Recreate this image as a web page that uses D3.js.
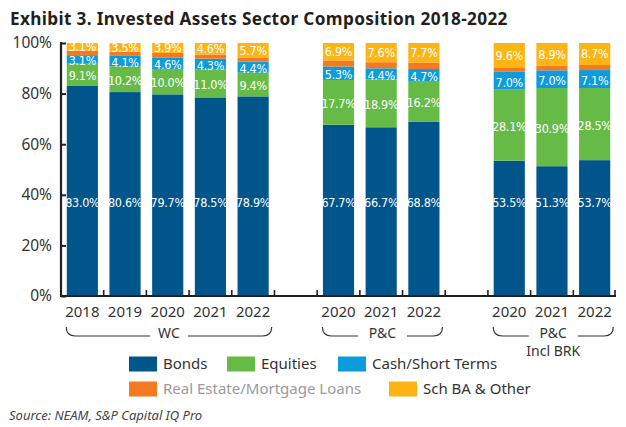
<!DOCTYPE html>
<html>
<head>
<meta charset="utf-8">
<script src="https://cdn.jsdelivr.net/npm/d3@7"></script>
<style>
  body { margin: 0; background: #fff; }
  svg { display: block; font-family: "Noto Sans", "Open Sans", sans-serif; }
</style>
</head>
<body>
<div id="chart"></div>
<script>
// data
const groups = ["WC", "P&C", "P&C|Incl BRK"];
const years = ["2018", "2019", "2020", "2021", "2022", "2020", "2021", "2022", "2020", "2021", "2022"];
const groupOf = ["WC", "WC", "WC", "WC", "WC", "P&C", "P&C", "P&C", "P&C|Incl BRK", "P&C|Incl BRK", "P&C|Incl BRK"];
const bonds = [83.0, 80.6, 79.7, 78.5, 78.9, 67.7, 66.7, 68.8, 53.5, 51.3, 53.7];
const equities = [9.1, 10.2, 10.0, 11.0, 9.4, 17.7, 18.9, 16.2, 28.1, 30.9, 28.5];
const cash = [3.1, 4.1, 4.6, 4.3, 4.4, 5.3, 4.4, 4.7, 7.0, 7.0, 7.1];
const realEstate = [1.7, 1.6, 1.8, 1.6, 1.6, 2.4, 2.4, 2.6, 1.8, 1.9, 2.0];
const schBA = [3.1, 3.5, 3.9, 4.6, 5.7, 6.9, 7.6, 7.7, 9.6, 8.9, 8.7];
const yTicks = [0, 20, 40, 60, 80, 100];

const seriesNames = ["Bonds", "Equities", "Cash/Short Terms", "Real Estate/Mortgage Loans", "Sch BA & Other"];
const seriesVals = [bonds, equities, cash, realEstate, schBA];
const colors = ["#00558b", "#66bb47", "#0a9cdc", "#f47a21", "#fdb515"];

const WIDTH = 626, HEIGHT = 427;
const mLeft = 61, mRight = 616, mTop = 43, mBottom = 296;

const svg = d3.select("#chart").append("svg")
  .attr("width", WIDTH).attr("height", HEIGHT);

// slots: a blank one between groups
var slots = [];
var rows = [];
years.forEach((yr, i) => {
  if (i > 0 && groupOf[i] !== groupOf[i - 1]) slots.push("gap" + i);
  var key = groupOf[i] + "-" + yr;
  slots.push(key);
  var r = { key: key, year: yr, group: groupOf[i] };
  seriesNames.forEach((s, j) => { r[s] = seriesVals[j][i]; });
  rows.push(r);
});

const x = d3.scaleBand().domain(slots).range([mLeft, mRight]).paddingInner(0.27).paddingOuter(0.135);
const y = d3.scaleLinear().domain([0, 100]).range([mBottom, mTop]);

const stacked = d3.stack().keys(seriesNames)(rows);

svg.append("text")
  .attr("x", 10).attr("y", 25)
  .attr("font-size", 17.2).attr("font-weight", 700).attr("fill", "#231f20")
  .attr("letter-spacing", 0.35)
  .text("Exhibit 3. Invested Assets Sector Composition 2018-2022");

// bars
svg.append("g").selectAll("g").data(stacked).join("g")
  .attr("fill", (d, i) => colors[i])
  .selectAll("rect").data(d => d).join("rect")
  .attr("x", d => x(d.data.key))
  .attr("width", x.bandwidth())
  .attr("y", d => y(Math.min(d[1], 100)))
  .attr("height", d => y(d[0]) - y(Math.min(d[1], 100)));

// value labels (no label on real estate)
const labelFont = "'DejaVu Sans Condensed', 'Liberation Sans Narrow', 'Roboto Condensed', sans-serif";
stacked.forEach((s, i) => {
  if (i === 3) return;
  svg.append("g").selectAll("text").data(s).join("text")
    .attr("x", d => x(d.data.key) + x.bandwidth() / 2)
    .attr("y", d => i === 0 ? y(37.5) : y(Math.min((d[0] + d[1]) / 2, 99.3)))
    .attr("dy", i === 4 ? "0.35em" : i === 2 ? "0.5em" : "0.45em")
    .attr("text-anchor", "middle")
    .attr("font-family", labelFont)
    .attr("font-stretch", "condensed")
    .attr("font-size", 12.5)
    .attr("letter-spacing", -0.3)
    .attr("fill", "#fff")
    .text(d => d.data[s.key].toFixed(1) + "%");
});

// y axis
const yAxis = svg.append("g").attr("transform", `translate(${mLeft},0)`)
  .call(d3.axisRight(y).tickValues(yTicks).tickSize(5).tickFormat(""));
yAxis.select(".domain").attr("stroke", "#231f20").attr("stroke-width", 2.2).attr("d", `M0,${mTop - 1}V${mBottom}`);
yAxis.selectAll(".tick line").attr("stroke", "#231f20").attr("stroke-width", 2);
svg.append("g").selectAll("text").data(yTicks).join("text")
  .attr("x", 52).attr("y", d => y(d)).attr("dy", "0.35em")
  .attr("text-anchor", "end").attr("font-size", 15.5).attr("fill", "#333")
  .text(d => d + "%");

// baseline with boundary ticks
svg.append("line").attr("x1", mLeft - 1).attr("x2", mRight).attr("y1", mBottom).attr("y2", mBottom)
  .attr("stroke", "#231f20").attr("stroke-width", 2);
svg.append("g").selectAll("line").data(slots.slice(1).concat(["end"])).join("line")
  .attr("x1", d => d === "end" ? mRight - 1 : x(d) - x.step() * x.paddingInner() / 2)
  .attr("x2", d => d === "end" ? mRight - 1 : x(d) - x.step() * x.paddingInner() / 2)
  .attr("y1", mBottom).attr("y2", mBottom - 6)
  .attr("stroke", "#231f20").attr("stroke-width", 1.6);

// year labels
svg.append("g").selectAll("text").data(rows).join("text")
  .attr("x", d => x(d.key) + x.bandwidth() / 2).attr("y", 312).attr("dy", "0.35em")
  .attr("text-anchor", "middle").attr("font-size", 15).attr("fill", "#333")
  .text(d => d.year);

// group braces
groups.forEach(g => {
  var ks = rows.filter(r => r.group === g).map(r => r.key);
  var x0 = x(ks[0]) - 0.5, x1 = x(ks[ks.length - 1]) + x.bandwidth() + 3;
  var mid = (x0 + x1) / 2;
  var lines = g.split("|");
  var half = lines[0].length * 5.5 + 8;
  var yb = 336, r = 6;
  svg.append("path")
    .attr("d", `M${x0},${yb - 9}Q${x0},${yb} ${x0 + r + 3},${yb}H${mid - half}M${mid + half},${yb}H${x1 - r - 3}Q${x1},${yb} ${x1},${yb - 9}`)
    .attr("fill", "none").attr("stroke", "#333").attr("stroke-width", 1.2);
  lines.forEach((t, i) => {
    svg.append("text").attr("x", mid).attr("y", 333 + i * 18).attr("dy", "0.35em")
      .attr("text-anchor", "middle").attr("font-size", 14).attr("fill", "#333").text(t);
  });
});

// legend
const legendPos = [[129, 364, 163], [227, 364, 261], [338, 364, 372], [129, 389, 163], [389, 389, 423]];
const legend = svg.append("g").selectAll("g").data(seriesNames).join("g");
legend.append("rect")
  .attr("x", (d, i) => legendPos[i][0]).attr("y", (d, i) => legendPos[i][1] - 7.5)
  .attr("width", 28).attr("height", 15)
  .attr("fill", (d, i) => colors[i]);
legend.append("text")
  .attr("x", (d, i) => legendPos[i][2]).attr("y", (d, i) => legendPos[i][1]).attr("dy", "0.35em")
  .attr("font-size", 15).attr("fill", (d, i) => i === 3 ? "#9a9a9a" : "#333")
  .text(d => d);

svg.append("text").attr("x", 9).attr("y", 415).attr("dy", "0.35em")
  .attr("font-size", 13).attr("font-style", "italic").attr("fill", "#444")
  .text("Source: NEAM, S&P Capital IQ Pro");
</script>
</body>
</html>
